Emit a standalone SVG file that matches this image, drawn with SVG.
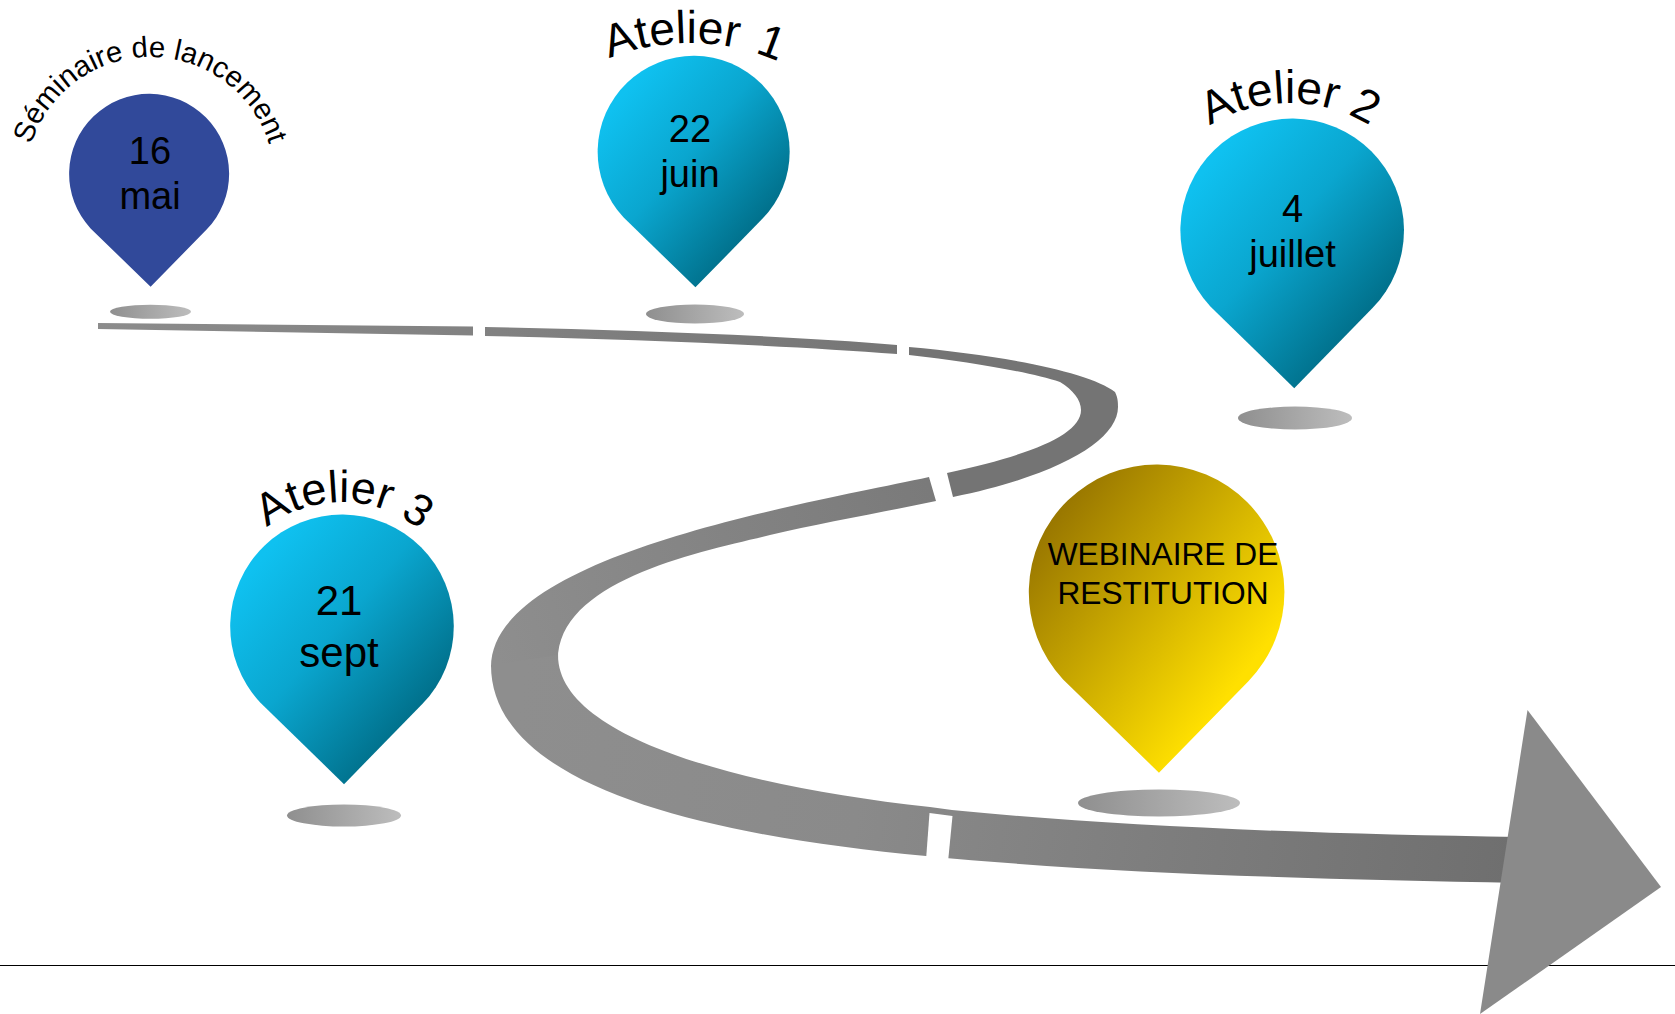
<svg xmlns="http://www.w3.org/2000/svg" width="1675" height="1014" viewBox="0 0 1675 1014">
<style>
text{font-family:"Liberation Sans",Arial,sans-serif;fill:#000}
.lab{text-anchor:middle}
.d{font-size:38px}
.t{font-size:46px}
</style>
<defs>
<linearGradient id="blue" x1="0.15" y1="0.15" x2="0.8" y2="0.82"><stop offset="0" stop-color="#0fc1f0"/><stop offset="0.45" stop-color="#0aa6cf"/><stop offset="1" stop-color="#006c86"/></linearGradient>
<linearGradient id="gold" x1="0.1" y1="0.18" x2="0.75" y2="0.78"><stop offset="0" stop-color="#9a7800"/><stop offset="1" stop-color="#ffe000"/></linearGradient>
<linearGradient id="sh"><stop offset="0" stop-color="#8f8f8f"/><stop offset="1" stop-color="#bdbdbd"/></linearGradient>
<linearGradient id="r1" gradientUnits="userSpaceOnUse" x1="98" y1="0" x2="900" y2="0"><stop offset="0" stop-color="#8c8c8c"/><stop offset="1" stop-color="#767676"/></linearGradient>
<linearGradient id="r4" gradientUnits="userSpaceOnUse" x1="490" y1="640" x2="930" y2="490"><stop offset="0" stop-color="#8e8e8e"/><stop offset="1" stop-color="#7a7a7a"/></linearGradient>
<linearGradient id="r5" gradientUnits="userSpaceOnUse" x1="520" y1="700" x2="1510" y2="860"><stop offset="0" stop-color="#8e8e8e"/><stop offset="0.35" stop-color="#8a8a8a"/><stop offset="1" stop-color="#6f6f6f"/></linearGradient>
<path id="pin" d="M2 141L-73 68A100 100 0 1 1 72 69.4Z"/>
<path id="a0" d="M25.500 181.700A124.700 124.700 0 0 1 274.900 181.700"/>
<path id="a1" d="M471 262A219 219 0 0 1 909 262"/>
<path id="a2" d="M1138 255A152 152 0 0 1 1442 255"/>
<path id="a3" d="M220 624A122 122 0 0 1 464 624"/>
</defs>
<rect width="1675" height="1014" fill="#fff"/>
<line id="baseline" x1="0" y1="965.500" x2="1675" y2="965.500" stroke="#000" stroke-width="1"/>
<g id="connectors">
<path fill="url(#r1)" d="M98 323L473 326.500L473 335.500L98 329Z"/>
<path fill="url(#r1)" d="M485 327C620 330 780 335 897 345L897 354C780 345 620 339 485 336Z"/>
<path fill="#747474" d="M909 347C1000 355 1090 372 1115 392C1118 398 1118 403 1118 407C1118 440 1060 475 953 497L947 473C1030 455 1081 435 1081 410C1081 400 1073 390 1060 382C1030 372 970 362 909 355Z"/>
<path fill="url(#r4)" d="M929 477C800 505 491 555 491 667L558 660C558 580 700 552 770 535C820 523 880 513 936 501Z"/>
<path fill="url(#r5)" d="M491 665C491 785 700 835 926 856C1100 873 1300 879 1520 883L1520 837C1300 834 1100 825 952 810L930 807C730 785 558 735 558 655Z"/>
<polygon fill="#fff" points="929.500,813 952.500,816 948,862 926,860"/>
<polygon fill="#8a8a8a" points="1527.500,710 1661,887 1480,1014"/>
</g>
<g id="n-seminaire">
<ellipse cx="150.500" cy="311.800" rx="40.500" ry="7" fill="url(#sh)"/>
<use href="#pin" transform="translate(149 174) scale(.8)" fill="#31499a"/>
<text class="lab d" x="150" y="164">16</text>
<text class="lab d" x="150" y="209">mai</text>
<text class="lab" font-size="29.300"><textPath href="#a0" startOffset="50%">Séminaire de lancement</textPath></text>
</g>
<g id="n-atelier1">
<ellipse cx="695" cy="314" rx="49" ry="9.500" fill="url(#sh)"/>
<use href="#pin" transform="translate(693.500 152) scale(.96)" fill="url(#blue)"/>
<text class="lab d" x="690" y="142">22</text>
<text class="lab d" x="690" y="187">juin</text>
<text class="lab t" word-spacing="5"><textPath href="#a1" startOffset="50.600%">Atelier 1</textPath></text>
</g>
<g id="n-atelier2">
<ellipse cx="1295" cy="418" rx="57" ry="11.500" fill="url(#sh)"/>
<use href="#pin" transform="translate(1292 230.500) scale(1.118)" fill="url(#blue)"/>
<text class="lab d" x="1292.500" y="222">4</text>
<text class="lab d" x="1292.500" y="267">juillet</text>
<text class="lab t"><textPath href="#a2" startOffset="50%">Atelier 2</textPath></text>
</g>
<g id="n-atelier3">
<ellipse cx="344" cy="815.500" rx="57" ry="11" fill="url(#sh)"/>
<use href="#pin" transform="translate(341.800 626.500) scale(1.118)" fill="url(#blue)"/>
<text class="lab" font-size="42" x="339" y="615">21</text>
<text class="lab" font-size="42" x="339" y="667">sept</text>
<text class="lab" font-size="45"><textPath href="#a3" startOffset="50.500%">Atelier 3</textPath></text>
</g>
<g id="n-webinaire">
<ellipse cx="1159" cy="803" rx="81" ry="13.500" fill="url(#sh)"/>
<use href="#pin" transform="translate(1156.400 592.500) scale(1.278)" fill="url(#gold)"/>
<text class="lab" font-size="31.700" x="1163" y="564.500">WEBINAIRE DE</text>
<text class="lab" font-size="31.700" x="1163" y="604">RESTITUTION</text>
</g>
</svg>
